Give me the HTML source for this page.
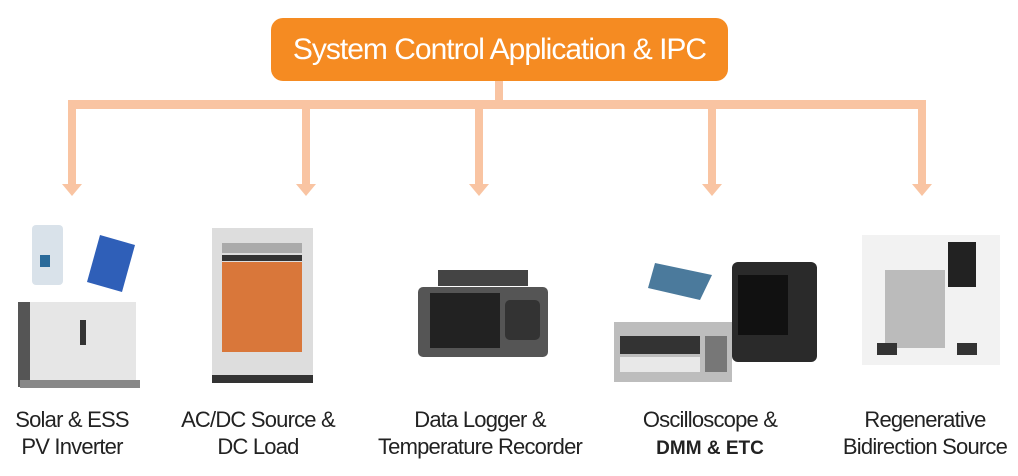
<!DOCTYPE html>
<html><head><style>
body{margin:0;width:1018px;height:476px;background:#fff;position:relative;overflow:hidden;font-family:"Liberation Sans",sans-serif}
.hdr{position:absolute;left:271px;top:18px;width:457px;height:63px;background:#f58b22;border-radius:12px;color:#fff;font-size:30px;line-height:63px;text-align:center;letter-spacing:-1px}
.lbl{position:absolute;top:406px;width:260px;text-align:center;font-size:22px;line-height:27px;color:#222;letter-spacing:-0.8px}
</style></head><body>
<div class="hdr">System Control Application &amp; IPC</div>
<svg width="1018" height="476" style="position:absolute;left:0;top:0">
<g fill="#f9c4a2">
<rect x="495" y="81" width="8" height="21"/>
<rect x="68" y="100" width="858" height="9"/>
<rect x="68" y="105" width="8" height="80"/><polygon points="62,184 82,184 72,196"/>
<rect x="302" y="105" width="8" height="80"/><polygon points="296,184 316,184 306,196"/>
<rect x="475" y="105" width="8" height="80"/><polygon points="469,184 489,184 479,196"/>
<rect x="708" y="105" width="8" height="80"/><polygon points="702,184 722,184 712,196"/>
<rect x="918" y="105" width="8" height="80"/><polygon points="912,184 932,184 922,196"/>
</g>
<!-- solar -->
<rect x="32" y="225" width="31" height="60" rx="4" fill="#d9e2ea"/>
<rect x="40" y="255" width="10" height="12" fill="#2a6a9a"/>
<polygon points="100,235 135,245 122,292 87,282" fill="#2f5fb8"/>
<rect x="18" y="302" width="118" height="85" fill="#e6e6e6"/>
<rect x="18" y="302" width="12" height="85" fill="#555"/>
<rect x="80" y="320" width="6" height="25" fill="#333"/>
<rect x="20" y="380" width="120" height="8" fill="#888"/>
<!-- rack -->
<rect x="212" y="228" width="101" height="155" fill="#ddd"/>
<rect x="222" y="262" width="80" height="90" fill="#d9773a"/>
<rect x="222" y="255" width="80" height="6" fill="#333"/>
<rect x="222" y="243" width="80" height="10" fill="#aaa"/>
<rect x="212" y="375" width="101" height="8" fill="#333"/>
<!-- logger -->
<rect x="438" y="270" width="90" height="16" fill="#444"/>
<rect x="418" y="287" width="130" height="70" rx="5" fill="#555"/>
<rect x="430" y="293" width="70" height="55" fill="#222"/>
<rect x="505" y="300" width="35" height="40" rx="5" fill="#333"/>
<!-- daq/scope/dmm -->
<polygon points="655,263 712,275 700,300 648,288" fill="#4b7a9c"/>
<rect x="732" y="262" width="85" height="100" rx="6" fill="#2a2a2a"/>
<rect x="738" y="275" width="50" height="60" fill="#111"/>
<rect x="614" y="322" width="118" height="60" fill="#bdbdbd"/>
<rect x="620" y="336" width="80" height="18" fill="#333"/>
<rect x="620" y="357" width="80" height="15" fill="#e8e8e8"/>
<rect x="705" y="336" width="22" height="36" fill="#777"/>
<!-- regen -->
<rect x="862" y="235" width="138" height="130" fill="#f2f2f2"/>
<rect x="885" y="270" width="60" height="78" fill="#bbb"/>
<rect x="948" y="242" width="28" height="45" fill="#222"/>
<rect x="877" y="343" width="20" height="12" fill="#333"/><rect x="957" y="343" width="20" height="12" fill="#333"/>
</svg>
<div class="lbl" style="left:-58px">Solar &amp; ESS<br>PV Inverter</div>
<div class="lbl" style="left:128px">AC/DC Source &amp;<br>DC Load</div>
<div class="lbl" style="left:350px">Data Logger &amp;<br>Temperature Recorder</div>
<div class="lbl" style="left:580px">Oscilloscope &amp;<br><span style="font-size:19px;font-weight:bold;letter-spacing:0">DMM &amp; ETC</span></div>
<div class="lbl" style="left:795px">Regenerative<br>Bidirection Source</div>
</body></html>
